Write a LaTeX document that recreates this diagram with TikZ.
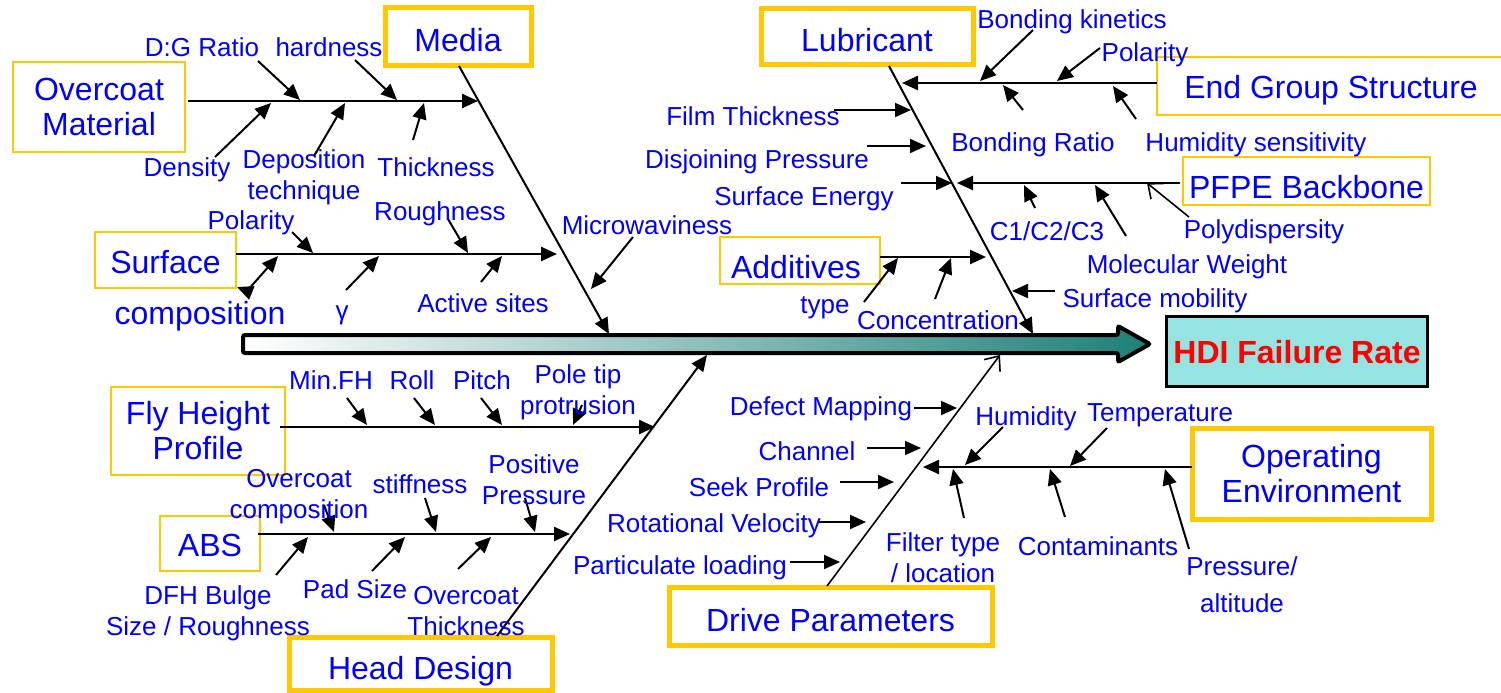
\documentclass[tikz,border=0pt]{standalone}
\usepackage{fontspec}
\setmainfont{Liberation Sans}
\usetikzlibrary{arrows.meta}

\definecolor{boxyellow}{RGB}{255,200,0}
\definecolor{causeblue}{RGB}{0,0,255}
\definecolor{shaftteal}{RGB}{30,128,120}
\definecolor{hdicyan}{RGB}{150,228,226}

\newcommand\itemfont{\fontsize{13}{15.5}\selectfont}
\newcommand\catfont{\fontsize{16}{17.5}\selectfont}

\tikzset{
  bone/.style={line width=1pt,-{Triangle[length=8pt,width=7pt]}},
  rib/.style={line width=1.2pt,-{Triangle[length=8pt,width=7pt]}},
  cause/.style={line width=1pt,-{Triangle[length=8pt,width=7pt]}},
  opencause/.style={line width=0.8pt,-{Straight Barb[length=6pt,width=10pt]}},
  item/.style={text=causeblue,font=\itemfont,align=center,inner sep=0pt},
  catlabel/.style={text=causeblue,font=\catfont,align=center,inner sep=0pt},
  bigcat/.style={catlabel,draw=boxyellow,line width=2.5pt},
  subcat/.style={catlabel,draw=boxyellow,line width=1pt},
  sink/.style={text height=#1,text depth=0pt},
}

\begin{document}
\begin{tikzpicture}[x=0.5pt,y=-0.5pt]
  \useasboundingbox (0,0) rectangle (1501,692);
  \fill[white] (0,0) rectangle (1501,692);

  % main shaft and the effect
  \draw[line width=2pt,rounded corners=1pt,left color=white,right color=shaftteal]
    (243,335) -- (1118,335) -- (1118,326) -- (1150,344) -- (1118,362) -- (1118,353) -- (243,353) -- cycle;
  \node[draw,line width=1.5pt,fill=hdicyan,minimum width=127pt,minimum height=35pt,sink=12.7pt,
        text=red,font=\catfont\bfseries] (hdi) at (1297,351) {HDI Failure Rate};

  % categories
  \node[subcat,minimum width=86pt,minimum height=45pt] (ocmat) at (99,107) {Overcoat\\Material};
  \node[bigcat,minimum width=73pt,minimum height=29pt,sink=15.7pt] (media) at (458,36) {Media};
  \node[subcat,minimum width=70.5pt,minimum height=28pt,sink=13.7pt] (surf) at (165.5,260) {Surface};
  \node[catlabel] (surfcomp) at (200,316) {composition};
  \node[bigcat,minimum width=106pt,minimum height=28pt,sink=15.7pt] (lube) at (867,36) {Lubricant};
  \node[subcat,minimum width=174pt,minimum height=29pt,sink=12.7pt] (endgrp) at (1331,86) {End Group Structure};
  \node[subcat,minimum width=123.5pt,minimum height=24pt,sink=17.7pt] (pfpe) at (1306.5,181) {PFPE Backbone};
  \node[subcat,minimum width=80pt,minimum height=23.5pt,sink=18.2pt] (addit) at (800,260.5) {Additives\hspace{4pt}};
  \node[subcat,minimum width=87pt,minimum height=44pt] (flyht) at (198,431) {Fly Height\\Profile};
  \node[subcat,minimum width=50pt,minimum height=27.5pt,sink=13.2pt] (abs) at (210,543.5) {ABS};
  \node[bigcat,minimum width=131.5pt,minimum height=26.5pt,sink=16.2pt] (head) at (420.5,663.5) {Head Design};
  \node[bigcat,minimum width=161.5pt,minimum height=29pt,sink=15.7pt] (drive) at (830.5,616) {Drive Parameters};
  \node[bigcat,minimum width=119.5pt,minimum height=45.5pt] (openv) at (1311.5,473.5) {Operating\\Environment};

  % spines onto the shaft
  \coordinate (mediaTop) at (459,66);   \coordinate (mediaEnd) at (609,334);
  \coordinate (lubeTop) at (889,66);    \coordinate (lubeEnd) at (1033,334);
  \coordinate (headBot) at (497,636);   \coordinate (headEnd) at (707,355);
  \coordinate (driveBot) at (827,586);  \coordinate (driveEnd) at (1000,355);
  \draw[bone] (mediaTop) -- (mediaEnd);
  \draw[bone] (lubeTop) -- (lubeEnd);
  \draw[bone] (headBot) -- (headEnd);
  \draw[opencause] (driveBot) -- (driveEnd);

  % ribs onto the spines
  \coordinate (ocA) at (188,101);   \coordinate (ocB) at (478,101);
  \coordinate (sfA) at (236,254);   \coordinate (sfB) at (557,254);
  \coordinate (egA) at (1157,83);   \coordinate (egB) at (902,83);
  \coordinate (pfA) at (1180,183);  \coordinate (pfB) at (957,183);
  \coordinate (adA) at (880,257);   \coordinate (adB) at (986,257);
  \coordinate (flA) at (280,427);   \coordinate (flB) at (655,427);
  \coordinate (abA) at (258,534);   \coordinate (abB) at (570,534);
  \coordinate (oeA) at (1192,467);  \coordinate (oeB) at (923,467);
  \foreach \r in {oc,sf,eg,pf,ad,fl,ab,oe}
    \draw[rib] (\r A) -- (\r B);

  % causes: tail -t, head -h
  \coordinate (dg-t) at (258,61);     \coordinate (dg-h) at (300,100);
  \coordinate (hard-t) at (355,60);   \coordinate (hard-h) at (397,100);
  \coordinate (dens-t) at (215,157);  \coordinate (dens-h) at (271,103);
  \coordinate (depo-t) at (314,156);  \coordinate (depo-h) at (345,103);
  \coordinate (thk-t) at (413,140);   \coordinate (thk-h) at (424,103);
  \coordinate (polL-t) at (292,232);  \coordinate (polL-h) at (313,253);
  \coordinate (rgh-t) at (448,219);   \coordinate (rgh-h) at (468,253);
  \coordinate (gam-t) at (346,290);   \coordinate (gam-h) at (379,256);
  \coordinate (act-t) at (481,282);   \coordinate (act-h) at (502,256);
  \coordinate (mw-t) at (633,237);    \coordinate (mw-h) at (591,289);

  \coordinate (bk-t) at (1033,30);    \coordinate (bk-h) at (980,81);
  \coordinate (polR-t) at (1100,48);  \coordinate (polR-h) at (1057,81);
  \coordinate (br-t) at (1023,110);   \coordinate (br-h) at (1003,85);
  \coordinate (hs-t) at (1136,119);   \coordinate (hs-h) at (1113,86);
  \coordinate (ft-t) at (834,110);    \coordinate (ft-h) at (911,110);
  \coordinate (dj-t) at (867,146);    \coordinate (dj-h) at (926,146);
  \coordinate (se-t) at (901,183);    \coordinate (se-h) at (952,183);
  \coordinate (cc-t) at (1035,208);   \coordinate (cc-h) at (1024,185);
  \coordinate (mol-t) at (1126,236);  \coordinate (mol-h) at (1095,185);
  \coordinate (sm-t) at (1055,291);   \coordinate (sm-h) at (1012,291);
  \coordinate (typ-t) at (864,302);   \coordinate (typ-h) at (898,258);
  \coordinate (con-t) at (935,299);   \coordinate (con-h) at (951,258);
  \coordinate (pd-t) at (1189,217);   \coordinate (pd-h) at (1147,183);

  \coordinate (mfh-t) at (347,398);   \coordinate (mfh-h) at (367,425);
  \coordinate (rol-t) at (414,398);   \coordinate (rol-h) at (435,425);
  \coordinate (pit-t) at (481,398);   \coordinate (pit-h) at (502,425);
  \coordinate (pol-t) at (582,405);   \coordinate (pol-h) at (573,425);
  \coordinate (occ-t) at (324,505);   \coordinate (occ-h) at (334,532);
  \coordinate (stf-t) at (425,498);   \coordinate (stf-h) at (436,532);
  \coordinate (pp-t) at (525,498);    \coordinate (pp-h) at (535,532);
  \coordinate (dfh-t) at (276,575);   \coordinate (dfh-h) at (308,537);
  \coordinate (pad-t) at (372,571);   \coordinate (pad-h) at (405,537);
  \coordinate (oct-t) at (458,569);   \coordinate (oct-h) at (491,537);

  \coordinate (dm-t) at (914,408);    \coordinate (dm-h) at (957,408);
  \coordinate (ch-t) at (867,448);    \coordinate (ch-h) at (921,448);
  \coordinate (sk-t) at (840,482);    \coordinate (sk-h) at (894,482);
  \coordinate (rv-t) at (818,522);    \coordinate (rv-h) at (866,522);
  \coordinate (pl-t) at (790,562);    \coordinate (pl-h) at (840,562);
  \coordinate (hum-t) at (1003,427);  \coordinate (hum-h) at (965,465);
  \coordinate (tmp-t) at (1107,428);  \coordinate (tmp-h) at (1070,466);
  \coordinate (flt-t) at (964,518);   \coordinate (flt-h) at (953,469);
  \coordinate (cnt-t) at (1065,517);  \coordinate (cnt-h) at (1050,469);
  \coordinate (prs-t) at (1189,549);  \coordinate (prs-h) at (1165,469);

  \foreach \c in {dg,hard,dens,depo,thk,polL,rgh,gam,act,mw,
                  bk,polR,br,hs,ft,dj,se,cc,mol,sm,typ,con,
                  mfh,rol,pit,pol,occ,stf,pp,dfh,pad,oct,
                  dm,ch,sk,rv,pl,hum,tmp,flt,cnt,prs}
    \draw[cause] (\c-t) -- (\c-h);
  \draw[opencause] (pd-t) -- (pd-h);

  % bent double arrow at the surface box corner
  \coordinate (sc-a) at (237,287);  \coordinate (sc-m) at (247,291);  \coordinate (sc-b) at (278,256);
  \draw[line width=1pt,{Triangle[length=8pt,width=7pt]}-{Triangle[length=8pt,width=7pt]}]
    (sc-a) -- (sc-m) -- (sc-b);

  % cause labels
  \node[item] (dg) at (202,47) {D:G Ratio};
  \node[item] (hard) at (329,47) {hardness};
  \node[item] (dens) at (187,170) {Density};
  \node[item] (depo) at (304,177.5) {Deposition\\technique};
  \node[item] (thk) at (436,167) {Thickness};
  \node[item] (polL) at (251,223) {Polarity};
  \node[item] (rgh) at (440,214) {Roughness};
  \node[item] (gam) at (342,315) {γ};
  \node[item] (act) at (483,303) {Active sites};
  \node[item] (mw) at (647,225) {Microwaviness};

  \node[item] (bk) at (1072,22) {Bonding kinetics};
  \node[item] (polR) at (1145,55) {Polarity};
  \node[item] (br) at (1033,145) {Bonding Ratio};
  \node[item] (hs) at (1256,145) {Humidity sensitivity};
  \node[item] (ft) at (753,116) {Film Thickness};
  \node[item] (dj) at (757,162) {Disjoining Pressure};
  \node[item] (se) at (804,199) {Surface Energy};
  \node[item] (cc) at (1047,231) {C1/C2/C3};
  \node[item] (pd) at (1264,232) {Polydispersity};
  \node[item] (mol) at (1187,267) {Molecular Weight};
  \node[item] (sm) at (1155,301) {Surface mobility};
  \node[item] (typ) at (825,308) {type};
  \node[item] (con) at (938,320) {Concentration};

  \node[item] (mfh) at (331,380) {Min.FH};
  \node[item] (rol) at (412,380) {Roll};
  \node[item] (pit) at (482,380) {Pitch};
  \node[item] (pol) at (578,392) {Pole tip\\protrusion};
  \node[item] (occ) at (299,497) {Overcoat\\composition};
  \node[item] (stf) at (420,484) {stiffness};
  \node[item] (pp) at (534,480) {Positive\\Pressure};
  \node[item] (dfh) at (208,613) {DFH Bulge\\Size / Roughness};
  \node[item] (pad) at (355,589) {Pad Size};
  \node[item] (oct) at (466,611) {Overcoat\\Thickness};

  \node[item] (dm) at (821,409) {Defect Mapping};
  \node[item] (ch) at (807,451) {Channel};
  \node[item] (sk) at (759,487) {Seek Profile};
  \node[item] (rv) at (714,526) {Rotational Velocity};
  \node[item] (pl) at (680,568) {Particulate loading};
  \node[item] (hum) at (1026,419) {Humidity};
  \node[item] (tmp) at (1160,415) {Temperature};
  \node[item] (flt) at (943,558) {Filter type\\/ location};
  \node[item] (cnt) at (1098,546) {Contaminants};
  \node[item] (prs) at (1242,585) {Pressure/\\[3pt]altitude};
\end{tikzpicture}
\end{document}
